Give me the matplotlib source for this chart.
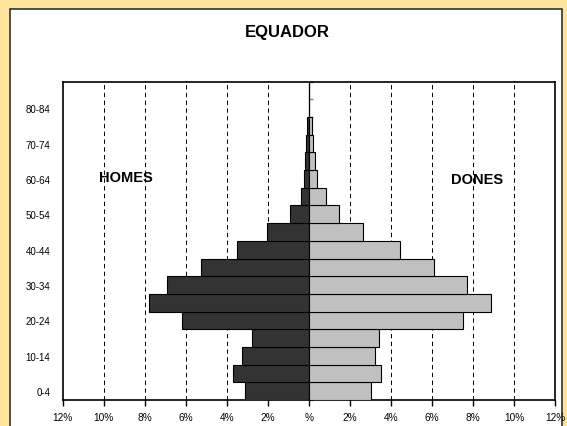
import numpy as np
import matplotlib
matplotlib.use("Agg")
import matplotlib.pyplot as plt
from matplotlib.patches import Rectangle

# ---- data ----
age_groups = ['0-4', '5-9', '10-14', '15-19', '20-24', '25-29', '30-34', '35-39',
              '40-44', '45-49', '50-54', '55-59', '60-64', '65-69', '70-74',
              '75-79', '80-84', '85+']
men = [3.13, 3.70, 3.24, 2.78, 6.19, 7.78, 6.93, 5.28, 3.52, 2.04, 0.95, 0.39,
       0.24, 0.18, 0.16, 0.08, 0.0, 0.0]
women = [3.03, 3.49, 3.21, 3.39, 7.48, 8.85, 7.72, 6.07, 4.41, 2.65, 1.44, 0.81,
         0.37, 0.28, 0.21, 0.15, 0.0, 0.0]
x_ticks = [-12, -10, -8, -6, -4, -2, 0, 2, 4, 6, 8, 10, 12]
x_tick_labels = ['12%', '10%', '8%', '6%', '4%', '2%', '%', '2%', '4%', '6%', '8%', '10%', '12%']
title = 'EQUADOR'
label_men = 'HOMES'
label_women = 'DONES'

plt.rcParams['font.family'] = ['Liberation Sans', 'DejaVu Sans']

W, H = 567, 427
fig = plt.figure(figsize=(W / 100, H / 100), dpi=100)
fig.patch.set_facecolor('#FFE59A')

# white chart box
box = Rectangle((9.5 / W, -0.05), (562 - 9.5) / W, 1.05 - 9.5 / H,
                transform=fig.transFigure, facecolor='white', edgecolor='#222222',
                linewidth=1.1, zorder=-10)
fig.patches.append(box)

ax = fig.add_axes([62.7 / W, (H - 401) / H, (555.3 - 62.7) / W, (401 - 82.7) / H])
ax.set_zorder(1)
ax.set_facecolor('white')

y = np.arange(len(age_groups))
ax.barh(y, -np.array(men), height=1.0, color='#333333', edgecolor='black',
        linewidth=0.8, zorder=3)
ax.barh(y, women, height=1.0, color='#C0C0C0', edgecolor='black',
        linewidth=0.8, zorder=3)

ax.set_xlim(-12, 12)
ax.set_ylim(-0.5, len(age_groups) - 0.5)

ax.set_xticks(x_ticks)
ax.set_xticklabels(x_tick_labels, fontsize=7.3)
ax.tick_params(axis='x', direction='out', length=4, width=1, pad=5, colors='black')

ax.set_yticks(y)
ax.set_yticklabels([g if i % 2 == 0 else '' for i, g in enumerate(age_groups)], fontsize=7)
ax.tick_params(axis='y', length=0, pad=9)

ax.grid(axis='x', color='black', linestyle=(0, (4.5, 3.5)), linewidth=0.7, zorder=1)
ax.grid(axis='y', visible=False)
for t, gl in zip(x_ticks, ax.get_xgridlines()):
    if t in (0, -12, 12):
        gl.set_visible(False)

for s in ax.spines.values():
    s.set_color('black')
    s.set_linewidth(1.2)

# central vertical axis with ticks at band boundaries
sec = ax.secondary_yaxis(0.5)
sec.set_yticks(np.arange(-0.5, len(age_groups), 1.0))
sec.set_yticklabels([])
sec.spines['left'].set_color('#808080')
sec.spines['left'].set_linewidth(1.0)
sec.tick_params(axis='y', length=3, width=1, color='#808080', direction='out')

ax.text(-8.93, 12.1, label_men, fontsize=10.5, fontweight='bold', ha='center', va='center')
ax.text(8.2, 12.0, label_women, fontsize=10.5, fontweight='bold', ha='center', va='center')

fig.text(287 / W, 1 - 33 / H, title, fontsize=12, fontweight='bold',
         ha='center', va='center')

fig.savefig('out.png', dpi=100, facecolor=fig.get_facecolor())
